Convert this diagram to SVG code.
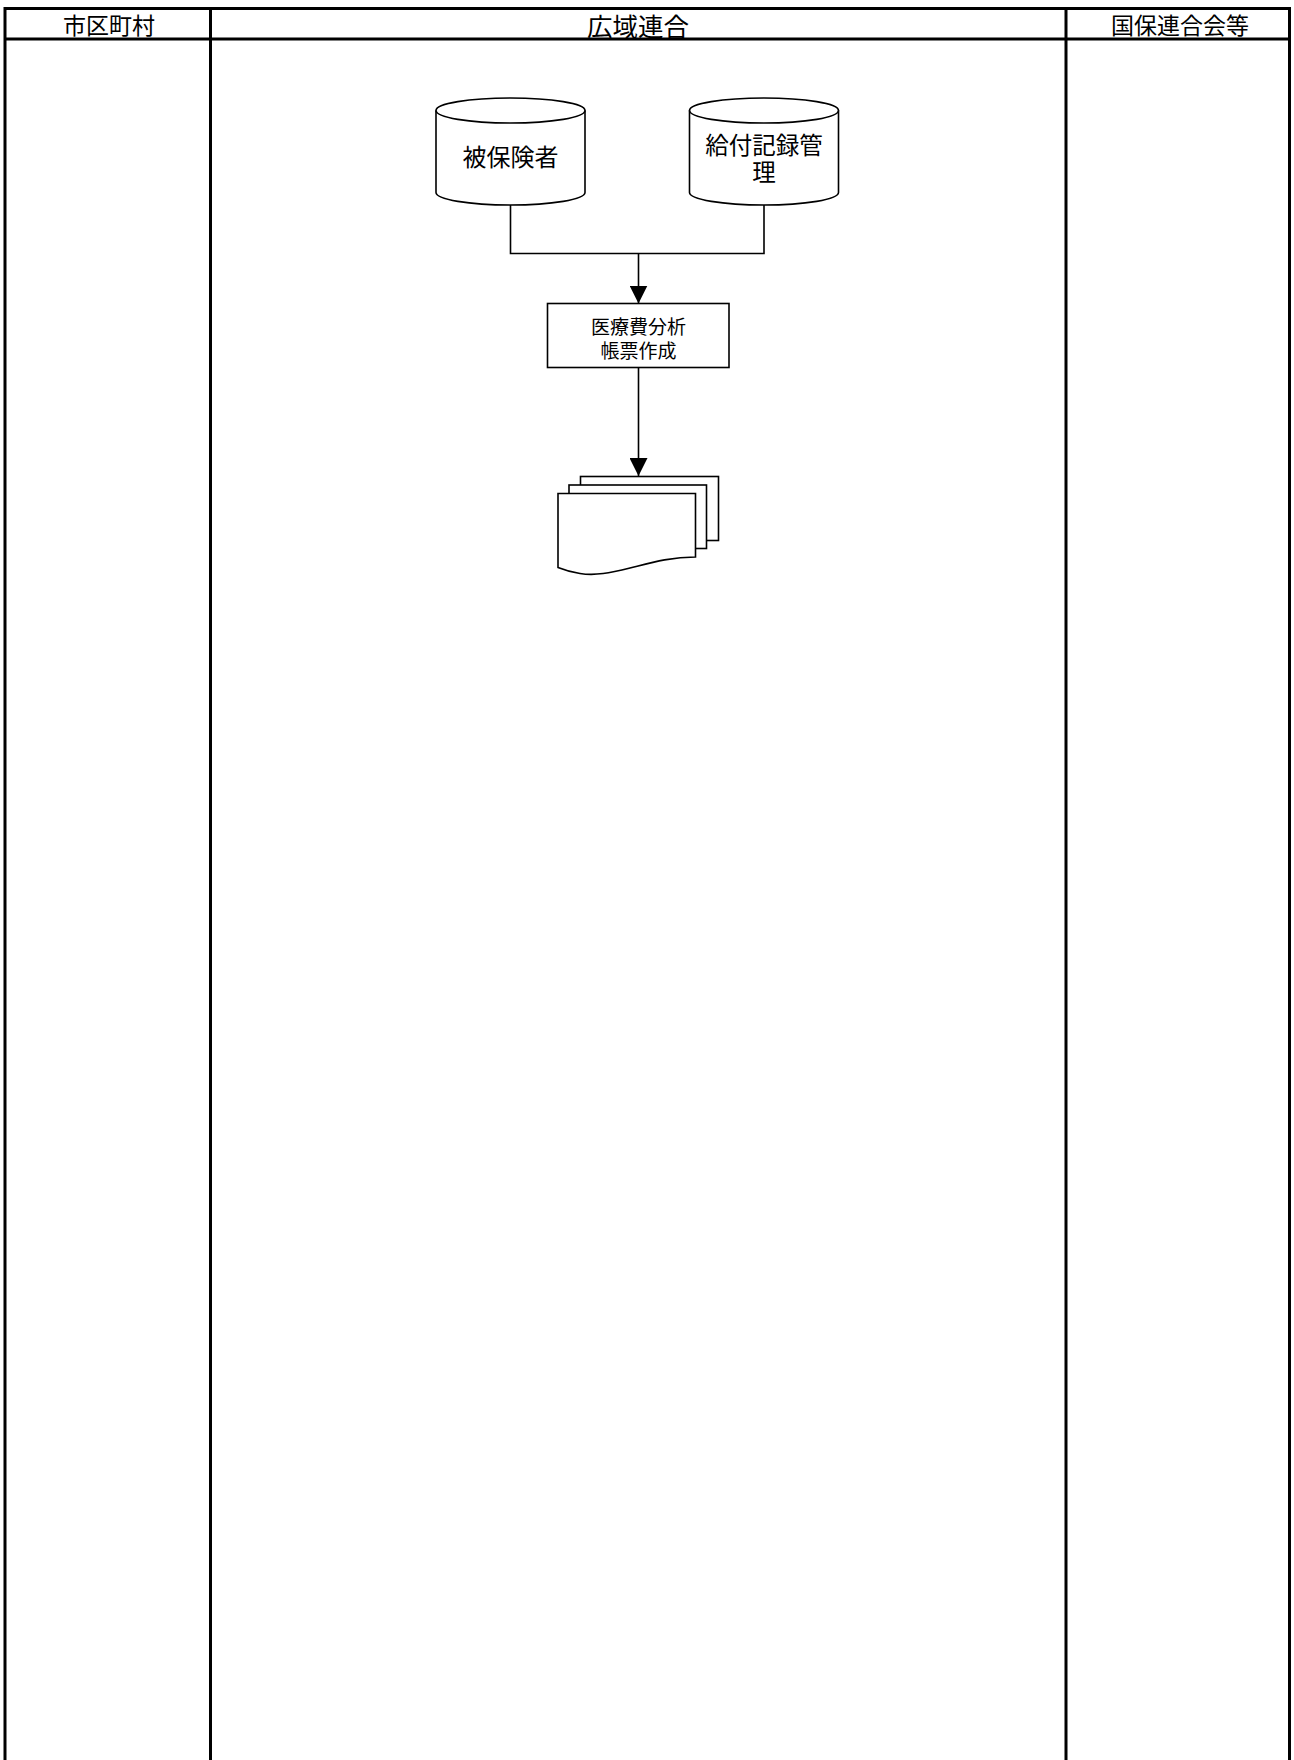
<svg xmlns="http://www.w3.org/2000/svg" width="1294" height="1760" viewBox="0 0 1294 1760">
<style>
text{font-family:"Noto Sans CJK JP","Noto Sans CJK SC",sans-serif;fill:#000;text-anchor:middle;dominant-baseline:central}
.lane{stroke:#000;stroke-width:3;fill:none}
.shape{stroke:#000;stroke-width:1.6;fill:#fff}
.conn{stroke:#000;stroke-width:1.6;fill:none}
.h{font-size:23px}
.n{font-size:24px}
.n2{font-size:23.5px}
.b{font-size:19px}
</style>
<defs>
<marker id="arr" markerWidth="18" markerHeight="18" refX="18" refY="9" orient="auto" markerUnits="userSpaceOnUse">
<path d="M0,0 L18,9 L0,18 Z" fill="#000"/>
</marker>
</defs>
<rect width="1294" height="1760" fill="#fff"/>
<g id="lanes">
<line class="lane" x1="5" y1="8.5" x2="1289.5" y2="8.5"/>
<line class="lane" x1="5" y1="39" x2="1289.5" y2="39"/>
<line class="lane" x1="5" y1="7" x2="5" y2="1760"/>
<line class="lane" x1="210.5" y1="7" x2="210.5" y2="1760"/>
<line class="lane" x1="1066" y1="7" x2="1066" y2="1760"/>
<line class="lane" x1="1289.5" y1="7" x2="1289.5" y2="1760"/>
<text class="h" x="109" y="24">市区町村</text>
<text x="638" y="24" style="font-size:25.5px">広域連合</text>
<text class="h" x="1180" y="24">国保連合会等</text>
</g>
<g id="connectors">
<polyline class="conn" points="510.5,205 510.5,253.5 764,253.5 764,205"/>
<line class="conn" x1="638.5" y1="253.5" x2="638.5" y2="303.5" marker-end="url(#arr)"/>
<line class="conn" x1="638.5" y1="367.5" x2="638.5" y2="476" marker-end="url(#arr)"/>
</g>
<g id="db-hihokensha">
<path class="shape" d="M436,110.5 A74.5,12.5 0 0 1 585,110.5 V192.5 A74.5,12.5 0 0 1 436,192.5 Z"/>
<path class="conn" d="M436,110.5 A74.5,12.5 0 0 0 585,110.5"/>
<text class="n" x="510.5" y="155">被保険者</text>
</g>
<g id="db-kyufu">
<path class="shape" d="M689.5,110.5 A74.5,12.5 0 0 1 838.5,110.5 V192.5 A74.5,12.5 0 0 1 689.5,192.5 Z"/>
<path class="conn" d="M689.5,110.5 A74.5,12.5 0 0 0 838.5,110.5"/>
<text class="n2"><tspan x="764" y="144">給付記録管</tspan><tspan x="764" y="170.5">理</tspan></text>
</g>
<g id="proc-bunseki">
<rect class="shape" x="547.5" y="303.5" width="181.5" height="64"/>
<text class="b"><tspan x="638.5" y="325">医療費分析</tspan><tspan x="638.5" y="349">帳票作成</tspan></text>
</g>
<g id="docs">
<rect class="shape" x="580.5" y="476.5" width="138" height="64"/>
<rect class="shape" x="569" y="485" width="137.5" height="63.5"/>
<path class="shape" d="M558,493.5 H695.5 V557 C670,557 650,563 630,568 C610,573 595,576 580,573.5 C570,572 563,569.5 558,567.5 Z"/>
</g>
</svg>
